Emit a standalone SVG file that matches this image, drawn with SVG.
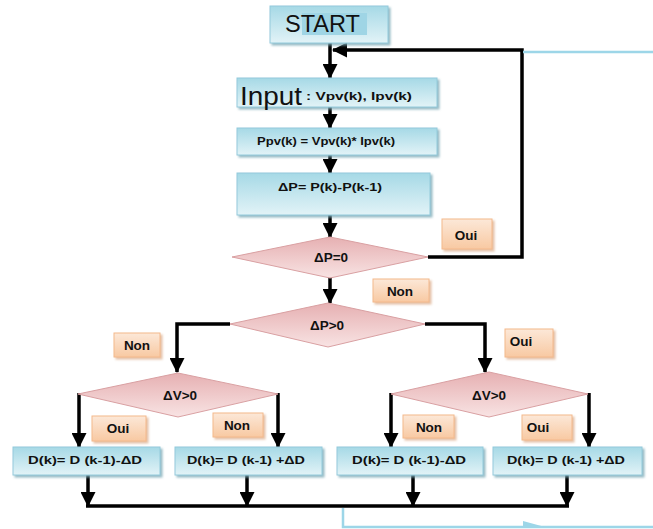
<svg xmlns="http://www.w3.org/2000/svg" width="653" height="529" viewBox="0 0 653 529">
<defs>
<linearGradient id="gBlue" x1="0" y1="0" x2="0" y2="1"><stop offset="0" stop-color="#a6d9e6"/><stop offset="1" stop-color="#e2f3f7"/></linearGradient>
<linearGradient id="gPink" x1="0" y1="0" x2="0" y2="1"><stop offset="0" stop-color="#e6b0b2"/><stop offset="1" stop-color="#f8e3e3"/></linearGradient>
<linearGradient id="gOrange" x1="0" y1="0" x2="0" y2="1"><stop offset="0" stop-color="#fce8d8"/><stop offset="1" stop-color="#f8c9a2"/></linearGradient>
<filter id="sh" x="-10%" y="-10%" width="130%" height="140%"><feDropShadow dx="2" dy="2" stdDeviation="0.8" flood-color="#7aa9b6" flood-opacity="0.8"/></filter>
<filter id="shO" x="-10%" y="-10%" width="130%" height="140%"><feDropShadow dx="2" dy="2" stdDeviation="0.8" flood-color="#d9a680" flood-opacity="0.7"/></filter>
<marker id="ah" markerUnits="userSpaceOnUse" markerWidth="15" markerHeight="15" refX="14" refY="7.5" orient="auto"><path d="M0,0 L15,7.5 L0,15 z" fill="#000"/></marker>
</defs>
<style>
.box{fill:url(#gBlue);stroke:#93cadb;stroke-width:1;filter:url(#sh)}
.dia{fill:url(#gPink);stroke:#d9a0a2;stroke-width:1}
.lab{fill:url(#gOrange);stroke:#f4b98c;stroke-width:1;filter:url(#shO)}
.t{font-family:"Liberation Sans",Arial,sans-serif;font-weight:bold;fill:#111;text-anchor:middle}
.c{fill:none;stroke:#000;stroke-width:3.5}
.a{marker-end:url(#ah)}
.lb{fill:none;stroke:#9dd6e8;stroke-width:2.5}
</style>

<g id="connectors">
<path class="c a" d="M330,43 V78"/>
<path class="c a" d="M428,257 H522 V50 H333"/>
<path class="c a" d="M330,107 V128"/>
<path class="c a" d="M330,155 V173"/>
<path class="c a" d="M330,215 V237"/>
<path class="c a" d="M330,277 V303"/>
<path class="c a" d="M230,324 H177 V372"/>
<path class="c a" d="M425,324 H485 V372"/>
<path class="c a" d="M79,393 V447"/>
<path class="c a" d="M278,393 V447"/>
<path class="c a" d="M391,393 V447"/>
<path class="c a" d="M589,393 V447"/>
<path class="c a" d="M88,475 V506"/>
<path class="c a" d="M247,475 V506"/>
<path class="c a" d="M413,475 V506"/>
<path class="c a" d="M567,475 V506"/>
<path class="c" d="M86,506 H569"/>
<path class="lb" d="M523,52 H653"/>
<path class="lb" d="M343,508 V527 H653"/>
<path d="M523,521 L545,527 L523,527 z" fill="#9dd6e8"/>
</g>

<g id="start">
<rect class="box" x="270" y="6" width="118" height="37"/>
<rect x="302" y="13" width="65" height="22" fill="#9fd5e5"/>
<text x="285" y="32" font-family="Liberation Sans,Arial,sans-serif" font-size="24" fill="#111" textLength="75" lengthAdjust="spacingAndGlyphs">START</text>
</g>

<g id="input">
<rect class="box" x="237" y="78" width="200" height="29"/>
<text x="240" y="105" font-family="Liberation Sans,Arial,sans-serif" font-size="26" fill="#111" textLength="62" lengthAdjust="spacingAndGlyphs">Input</text>
<text x="306" y="100" font-family="Liberation Sans,Arial,sans-serif" font-size="11" font-weight="bold" fill="#111" textLength="106" lengthAdjust="spacingAndGlyphs">: Vpv(k), Ipv(k)</text>
</g>

<g id="ppv">
<rect class="box" x="237" y="128" width="200" height="27"/>
<text class="t" x="326" y="145" font-size="10.5" textLength="138" lengthAdjust="spacingAndGlyphs">Ppv(k) = Vpv(k)* Ipv(k)</text>
</g>

<g id="deltaP">
<rect class="box" x="237" y="173" width="193" height="42"/>
<text class="t" x="330" y="191" font-size="11.5" textLength="104" lengthAdjust="spacingAndGlyphs">ΔP= P(k)-P(k-1)</text>
</g>

<g id="dP0">
<polygon class="dia" points="330,237 428,257 330,278 232,257"/>
<text class="t" x="331" y="262" font-size="13.5">ΔP=0</text>
</g>

<g id="lblOui1">
<rect class="lab" x="442" y="219" width="50" height="30"/>
<text class="t" x="466" y="240" font-size="13.5">Oui</text>
</g>

<g id="lblNon1">
<rect class="lab" x="373" y="279" width="56" height="23"/>
<text class="t" x="400" y="296" font-size="13.5">Non</text>
</g>

<g id="dPpos">
<polygon class="dia" points="328,303 425,324 328,347 230,324"/>
<text class="t" x="327" y="330" font-size="13.5">ΔP&gt;0</text>
</g>

<g id="lblNon2">
<rect class="lab" x="114" y="333" width="46" height="24"/>
<text class="t" x="137" y="350" font-size="13.5">Non</text>
</g>

<g id="lblOui2">
<rect class="lab" x="505" y="329" width="48" height="28"/>
<text class="t" x="521" y="346" font-size="13.5">Oui</text>
</g>

<g id="dVleft">
<polygon class="dia" points="178,373 278,394 178,417 78,394"/>
<text class="t" x="180" y="400" font-size="13.5">ΔV&gt;0</text>
</g>

<g id="dVright">
<polygon class="dia" points="489,372 588,394 489,417 391,394"/>
<text class="t" x="489" y="400" font-size="13.5">ΔV&gt;0</text>
</g>

<g id="lblOui3">
<rect class="lab" x="92" y="416" width="54" height="25"/>
<text class="t" x="118" y="433" font-size="13.5">Oui</text>
</g>
<g id="lblNon3">
<rect class="lab" x="213" y="413" width="50" height="24"/>
<text class="t" x="237" y="430" font-size="13.5">Non</text>
</g>
<g id="lblNon4">
<rect class="lab" x="403" y="415" width="51" height="23"/>
<text class="t" x="429" y="432" font-size="13.5">Non</text>
</g>
<g id="lblOui4">
<rect class="lab" x="522" y="415" width="50" height="25"/>
<text class="t" x="538" y="432" font-size="13.5">Oui</text>
</g>

<g id="d1">
<rect class="box" x="13" y="447" width="147" height="28"/>
<text class="t" x="85" y="464" font-size="11" textLength="114" lengthAdjust="spacingAndGlyphs">D(k)= D (k-1)-ΔD</text>
</g>
<g id="d2">
<rect class="box" x="175" y="447" width="147" height="28"/>
<text class="t" x="246" y="464" font-size="11" textLength="118" lengthAdjust="spacingAndGlyphs">D(k)= D (k-1) +ΔD</text>
</g>
<g id="d3">
<rect class="box" x="337" y="447" width="146" height="28"/>
<text class="t" x="409" y="464" font-size="11" textLength="114" lengthAdjust="spacingAndGlyphs">D(k)= D (k-1)-ΔD</text>
</g>
<g id="d4">
<rect class="box" x="493" y="447" width="149" height="28"/>
<text class="t" x="566" y="464" font-size="11" textLength="118" lengthAdjust="spacingAndGlyphs">D(k)= D (k-1) +ΔD</text>
</g>
</svg>
